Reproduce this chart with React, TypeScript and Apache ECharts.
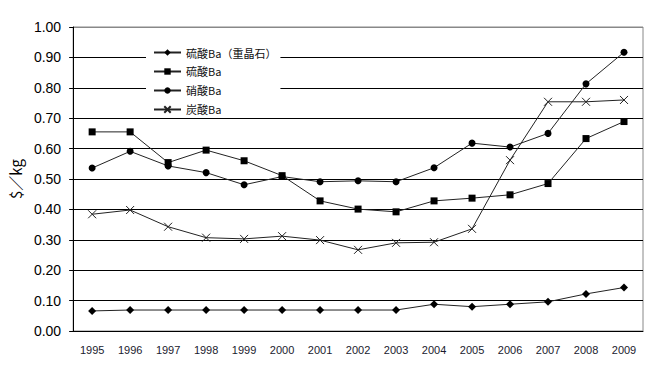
import React, { useEffect, useRef } from "react";
import * as echarts from "echarts";

const years = ["1995","1996","1997","1998","1999","2000","2001","2002","2003","2004","2005","2006","2007","2008","2009"];
const seriesNames = ["硫酸Ba（重晶石）", "硫酸Ba", "硝酸Ba", "炭酸Ba"];
const barite = [0.066, 0.069, 0.069, 0.069, 0.069, 0.069, 0.069, 0.069, 0.069, 0.088, 0.080, 0.088, 0.096, 0.122, 0.143];
const bariumSulfate = [0.655, 0.655, 0.554, 0.595, 0.560, 0.511, 0.428, 0.401, 0.392, 0.428, 0.437, 0.448, 0.485, 0.633, 0.689];
const bariumNitrate = [0.536, 0.591, 0.543, 0.521, 0.481, 0.508, 0.491, 0.494, 0.491, 0.537, 0.618, 0.605, 0.650, 0.813, 0.917];
const bariumCarbonate = [0.384, 0.398, 0.343, 0.307, 0.303, 0.312, 0.299, 0.267, 0.290, 0.292, 0.336, 0.562, 0.754, 0.754, 0.760];
const yTicks = { min: 0, max: 1, interval: 0.1 };

const CROSS = "path://M0,0L10,10M10,0L0,10";

export default function App() {
  const ref = useRef<HTMLDivElement>(null);
  useEffect(() => {
    const chart = echarts.init(ref.current!, null, { renderer: "svg" });
    const lineStyle = { color: "#222", width: 1 };
    const gridColors = ["#000", "#000", "#000", "#000", "#000", "#000", "#000", "#000", "#000", "#000", "#888"];
    chart.setOption({
      animation: false,
      backgroundColor: "#fff",
      textStyle: { fontFamily: "Liberation Sans, Arial, sans-serif" },
      grid: { left: 72, right: 18, top: 27, bottom: 34, show: true, borderColor: "#888", borderWidth: 1 },
      legend: {
        orient: "vertical",
        left: 146,
        top: 44,
        backgroundColor: "#fff",
        padding: [3, 4, 2, 7],
        itemWidth: 27,
        itemHeight: 8,
        itemGap: 8,
        textStyle: { fontSize: 11, color: "#111", fontFamily: "Noto Sans CJK JP, sans-serif" },
        data: seriesNames,
      },
      xAxis: {
        type: "category",
        data: years,
        boundaryGap: true,
        axisLine: { lineStyle: { color: "#000", width: 1 } },
        axisTick: { inside: true, length: 4, lineStyle: { color: "#000" } },
        axisLabel: { fontSize: 11, color: "#1a1a2e", margin: 13, fontFamily: "Liberation Sans, Arial, sans-serif" },
        splitLine: { show: false },
      },
      yAxis: {
        type: "value",
        min: yTicks.min,
        max: yTicks.max,
        interval: yTicks.interval,
        name: "$／kg",
        nameLocation: "middle",
        nameRotate: 90,
        nameGap: 48,
        nameTextStyle: { fontSize: 15, color: "#000", fontFamily: "Noto Sans CJK JP, sans-serif" },
        axisLine: { show: true, lineStyle: { color: "#000", width: 1 } },
        axisTick: { show: true, length: 4, lineStyle: { color: "#000" } },
        axisLabel: {
          fontSize: 14,
          color: "#000",
          margin: 12,
          formatter: (v: number) => v.toFixed(2),
        },
        splitLine: { show: true, lineStyle: { color: gridColors, width: 1 } },
      },
      series: [
        {
          name: seriesNames[0],
          type: "line",
          data: barite,
          symbol: "diamond",
          symbolSize: 8,
          lineStyle,
          itemStyle: { color: "#000" },
        },
        {
          name: seriesNames[1],
          type: "line",
          data: bariumSulfate,
          symbol: "rect",
          symbolSize: 7,
          lineStyle,
          itemStyle: { color: "#000" },
        },
        {
          name: seriesNames[2],
          type: "line",
          data: bariumNitrate,
          symbol: "circle",
          symbolSize: 7,
          lineStyle,
          itemStyle: { color: "#000" },
        },
        {
          name: seriesNames[3],
          type: "line",
          data: bariumCarbonate,
          symbol: CROSS,
          symbolSize: 8,
          lineStyle,
          itemStyle: { color: "rgba(0,0,0,0)", borderColor: "#222", borderWidth: 1 },
        },
      ],
    });
    return () => chart.dispose();
  }, []);
  return <div ref={ref} style={{ width: 661, height: 365, position: "absolute", left: 0, top: 0 }} />;
}
